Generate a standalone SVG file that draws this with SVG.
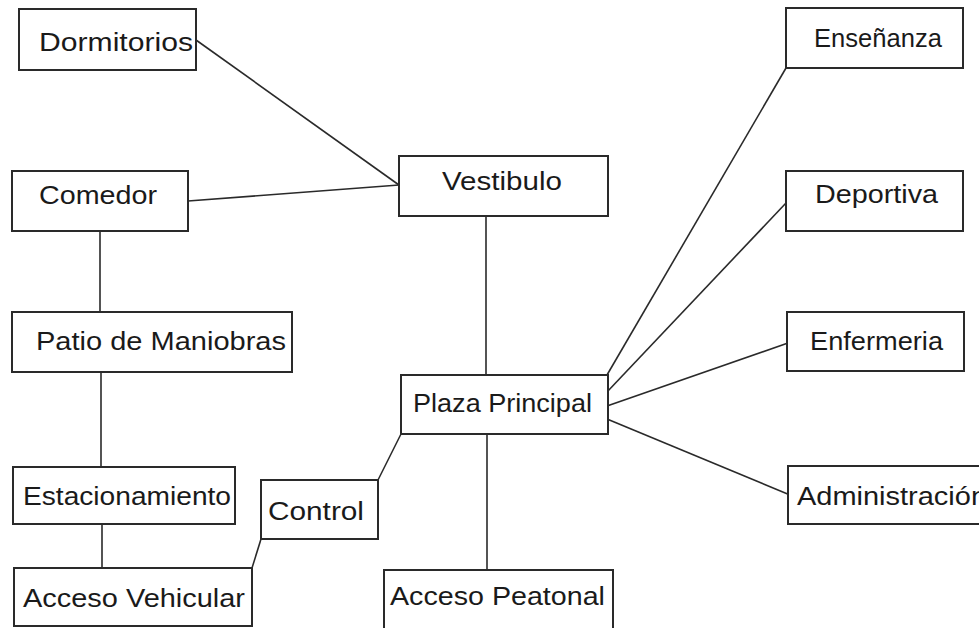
<svg xmlns="http://www.w3.org/2000/svg" width="979" height="628" viewBox="0 0 979 628">
  <style>
    .box { fill: #ffffff; stroke: #2a2a2a; stroke-width: 2; }
    .lbl { font-family: "Liberation Sans", Arial, sans-serif; font-size: 26px; fill: #1a1a1a; }
    .link { stroke: #2a2a2a; stroke-width: 1.6; fill: none; }
  </style>
  <rect width="979" height="628" fill="#ffffff"/>

  <!-- connectors -->
  <g id="connectors" class="link">
    <line x1="196" y1="40" x2="399" y2="185"/>
    <line x1="188" y1="201" x2="399" y2="185"/>
    <line x1="100" y1="231" x2="100" y2="312"/>
    <line x1="101" y1="372" x2="101" y2="467"/>
    <line x1="102" y1="524" x2="102" y2="568"/>
    <line x1="261" y1="539" x2="252" y2="568"/>
    <line x1="378" y1="480" x2="401" y2="434"/>
    <line x1="486" y1="216" x2="486" y2="375"/>
    <line x1="487" y1="434" x2="487" y2="570"/>
    <line x1="607" y1="375" x2="786" y2="68"/>
    <line x1="607" y1="392" x2="786" y2="203"/>
    <line x1="607" y1="406" x2="788" y2="343"/>
    <line x1="607" y1="419" x2="790" y2="495"/>
  </g>

  <!-- nodes -->
  <g id="dormitorios">
    <rect class="box" x="19" y="9" width="177" height="61"/>
    <text class="lbl" x="39" y="51" textLength="154" lengthAdjust="spacingAndGlyphs">Dormitorios</text>
  </g>
  <g id="comedor">
    <rect class="box" x="12" y="171" width="176" height="60"/>
    <text class="lbl" x="39" y="204" textLength="118" lengthAdjust="spacingAndGlyphs">Comedor</text>
  </g>
  <g id="vestibulo">
    <rect class="box" x="399" y="156" width="209" height="60"/>
    <text class="lbl" x="442" y="190" textLength="120" lengthAdjust="spacingAndGlyphs">Vestibulo</text>
  </g>
  <g id="ensenanza">
    <rect class="box" x="786" y="8" width="177" height="60"/>
    <text class="lbl" x="814" y="47" textLength="128" lengthAdjust="spacingAndGlyphs">Enseñanza</text>
  </g>
  <g id="deportiva">
    <rect class="box" x="786" y="171" width="177" height="60"/>
    <text class="lbl" x="815" y="203" textLength="123" lengthAdjust="spacingAndGlyphs">Deportiva</text>
  </g>
  <g id="patio-maniobras">
    <rect class="box" x="12" y="312" width="280" height="60"/>
    <text class="lbl" x="36" y="350" textLength="250" lengthAdjust="spacingAndGlyphs">Patio de Maniobras</text>
  </g>
  <g id="enfermeria">
    <rect class="box" x="787" y="312" width="177" height="59"/>
    <text class="lbl" x="810" y="350" textLength="133" lengthAdjust="spacingAndGlyphs">Enfermeria</text>
  </g>
  <g id="plaza-principal">
    <rect class="box" x="401" y="375" width="207" height="59"/>
    <text class="lbl" x="413" y="412" textLength="179" lengthAdjust="spacingAndGlyphs">Plaza Principal</text>
  </g>
  <g id="estacionamiento">
    <rect class="box" x="13" y="467" width="222" height="57"/>
    <text class="lbl" x="23" y="505" textLength="208" lengthAdjust="spacingAndGlyphs">Estacionamiento</text>
  </g>
  <g id="control">
    <rect class="box" x="261" y="480" width="117" height="59"/>
    <text class="lbl" x="268" y="520" textLength="96" lengthAdjust="spacingAndGlyphs">Control</text>
  </g>
  <g id="administracion">
    <rect class="box" x="788" y="466" width="200" height="58"/>
    <text class="lbl" x="797" y="505" textLength="190" lengthAdjust="spacingAndGlyphs">Administración</text>
  </g>
  <g id="acceso-vehicular">
    <rect class="box" x="14" y="568" width="238" height="58"/>
    <text class="lbl" x="23" y="607" textLength="222" lengthAdjust="spacingAndGlyphs">Acceso Vehicular</text>
  </g>
  <g id="acceso-peatonal">
    <rect class="box" x="384" y="570" width="229" height="62"/>
    <text class="lbl" x="390" y="605" textLength="215" lengthAdjust="spacingAndGlyphs">Acceso Peatonal</text>
  </g>
</svg>
